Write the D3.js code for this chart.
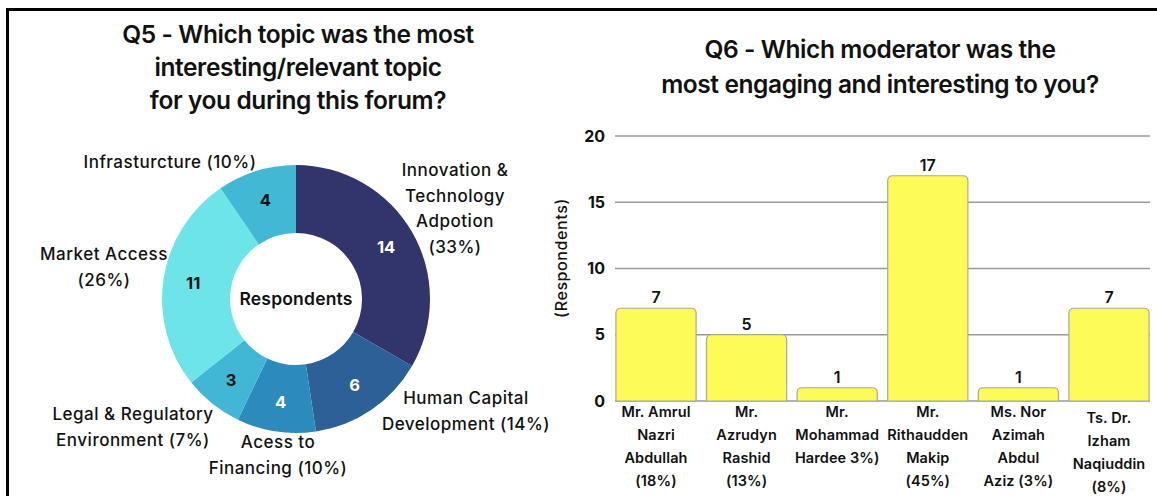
<!DOCTYPE html>
<html><head><meta charset="utf-8">
<script src="https://cdn.jsdelivr.net/npm/d3@7"></script>
<style>
html,body{margin:0;padding:0;background:#fff;}
svg{display:block;font-family:Inter,"Open Sans",sans-serif;}
</style></head>
<body>
<svg id="c" width="1157" height="496"></svg>
<script>
// ---------- data ----------
const topics = ["Innovation & Technology Adpotion","Human Capital Development","Acess to Financing","Legal & Regulatory Environment","Market Access","Infrastructure"];
const topicValues = [14, 6, 4, 3, 11, 4];
const topicLabelLines = [
  ["Innovation &","Technology","Adpotion","(33%)"],
  ["Human Capital","Development (14%)"],
  ["Acess to","Financing (10%)"],
  ["Legal & Regulatory","Environment (7%)"],
  ["Market Access","(26%)"],
  ["Infrasturcture (10%)"]
];
const topicColors = ["#32346c","#2c6097","#2d8bbb","#41b7d5","#6de4e7","#42b8d5"];
const topicValueColors = ["#fff","#fff","#fff","#111","#111","#111"];

const moderators = ["Mr. Amrul Nazri Abdullah","Mr. Azrudyn Rashid","Mr. Mohammad Hardee","Mr. Rithaudden Makip","Ms. Nor Azimah Abdul Aziz","Ts. Dr. Izham Naqiuddin"];
const moderatorValues = [7, 5, 1, 17, 1, 7];
const moderatorLabelLines = [
  ["Mr. Amrul","Nazri","Abdullah","(18%)"],
  ["Mr.","Azrudyn","Rashid","(13%)"],
  ["Mr.","Mohammad","Hardee 3%)"],
  ["Mr.","Rithaudden","Makip","(45%)"],
  ["Ms. Nor","Azimah","Abdul","Aziz (3%)"],
  ["Ts. Dr.","Izham","Naqiuddin","(8%)"]
];
const yTicks = [0, 5, 10, 15, 20];

const q5Title = ["Q5 - Which topic was the most","interesting/relevant topic","for you during this forum?"];
const q6Title = ["Q6 - Which moderator was the","most engaging and interesting to you?"];

// ---------- layout (not data) ----------
const donutLabelPos = [
  {x:455, y:170},
  {x:466, y:398},
  {x:278, y:442},
  {x:133, y:414},
  {x:104, y:254},
  {x:170, y:162}
];

const svg = d3.select("#c");

// frame
svg.append("path").attr("d","M7.5,496 V9.5 H1157").attr("fill","none").attr("stroke","#000").attr("stroke-width",3);

// ---------- Q5 donut ----------
const cx = 296, cy = 299;
svg.append("g").selectAll("text").data(q5Title).join("text")
  .attr("x", cx+2).attr("y",(d,i)=>43+i*33).attr("text-anchor","middle")
  .attr("font-size",24.5).attr("font-weight",600).attr("letter-spacing",-0.4).attr("fill","#111").text(d=>d);

const pie = d3.pie().sort(null).value(d=>d)(topicValues);
const arc = d3.arc().innerRadius(66).outerRadius(134);
const labelArc = d3.arc().innerRadius(104).outerRadius(104);
const gD = svg.append("g").attr("transform",`translate(${cx},${cy})`);
gD.selectAll("path").data(pie).join("path").attr("d",arc).attr("fill",(d,i)=>topicColors[i]);
gD.selectAll("text.v").data(pie).join("text").attr("class","v")
  .attr("transform",d=>`translate(${labelArc.centroid(d)})`).attr("dy","0.36em")
  .attr("text-anchor","middle").attr("font-size",16.5).attr("font-weight",700)
  .attr("fill",(d,i)=>topicValueColors[i]).text(d=>d.data);
gD.append("text").attr("text-anchor","middle").attr("dy","0.36em").attr("font-size",17.5)
  .attr("font-weight",600).attr("letter-spacing",0.2).attr("fill","#111").text("Respondents");

topicLabelLines.forEach((lines,i)=>{
  const p = donutLabelPos[i];
  const t = svg.append("text").attr("text-anchor","middle").attr("font-size",17).attr("font-weight",500)
    .attr("letter-spacing",0.5).attr("fill","#111");
  lines.forEach((l,j)=>t.append("tspan").attr("x",p.x).attr("y",p.y+6+j*25.5).text(l));
});

// ---------- Q6 bar chart ----------
const bx0 = 615, bx1 = 1150;
svg.append("g").selectAll("text").data(q6Title).join("text")
  .attr("x",880).attr("y",(d,i)=>58+i*35).attr("text-anchor","middle")
  .attr("font-size",24.5).attr("font-weight",600).attr("letter-spacing",-0.4).attr("fill","#111").text(d=>d);

const x = d3.scaleBand().domain(moderators).range([bx0,bx1]).paddingInner(0.115).paddingOuter(0.01);
const y = d3.scaleLinear().domain([0,20]).range([401,136]);

const grid = svg.append("g");
grid.selectAll("line").data(yTicks).join("line")
  .attr("x1",bx0).attr("x2",bx1).attr("y1",d=>y(d)).attr("y2",d=>y(d))
  .attr("stroke","#9a9a9a").attr("stroke-width",1.5);

const yAxis = svg.append("g").attr("transform",`translate(${bx0},0)`)
  .call(d3.axisLeft(y).tickValues(yTicks).tickSize(0).tickPadding(10));
yAxis.select(".domain").remove();
yAxis.selectAll("text").attr("font-size",16).attr("font-weight",700).attr("fill","#111").attr("font-family","Inter,sans-serif");

svg.append("text").attr("transform","translate(567,258) rotate(-90)").attr("text-anchor","middle")
  .attr("font-size",16).attr("font-weight",500).attr("letter-spacing",0.6).attr("fill","#111").text("(Respondents)");

function topRounded(x0,y0,w,h,r){
  r=Math.min(r,h,w/2);
  return `M${x0},${y0+h} V${y0+r} Q${x0},${y0} ${x0+r},${y0} H${x0+w-r} Q${x0+w},${y0} ${x0+w},${y0+r} V${y0+h} Z`;
}
const bars = svg.append("g");
bars.selectAll("path").data(moderatorValues).join("path")
  .attr("d",(d,i)=>topRounded(x(moderators[i]), y(d), x.bandwidth(), y(0)-y(d), 5))
  .attr("fill","#fdfb57").attr("stroke","#a9a994").attr("stroke-width",1.2);
bars.selectAll("text").data(moderatorValues).join("text")
  .attr("x",(d,i)=>x(moderators[i])+x.bandwidth()/2).attr("y",d=>y(d)-5)
  .attr("text-anchor","middle").attr("font-size",16).attr("font-weight",600).attr("fill","#111").text(d=>d);

moderatorLabelLines.forEach((lines,i)=>{
  const t = svg.append("text").attr("text-anchor","middle").attr("font-size",14.5).attr("font-weight",600)
    .attr("letter-spacing",0.1).attr("fill","#111");
  const off = i===5 ? 6 : 0;
  lines.forEach((l,j)=>t.append("tspan").attr("x",x(moderators[i])+x.bandwidth()/2).attr("y",417+off+j*23).text(l));
});
</script>
</body></html>
